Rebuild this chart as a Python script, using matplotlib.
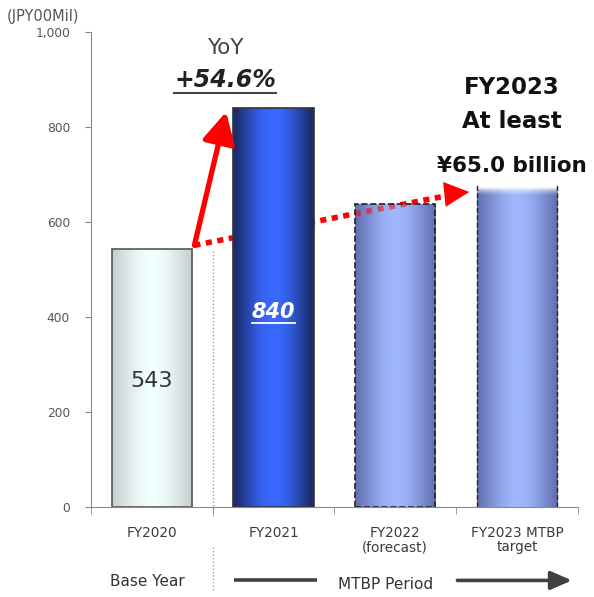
import numpy as np
import matplotlib
matplotlib.use("Agg")
import matplotlib.pyplot as plt
from matplotlib.colors import LinearSegmentedColormap
from matplotlib.transforms import blended_transform_factory

# ---------- data ----------
categories = ["FY2020", "FY2021", "FY2022\n(forecast)", "FY2023 MTBP\ntarget"]
values = [543, 840, 638, 650]
value_labels = ["543", "840"]
yoy_label = "+54.6%"
y_ticks = [0, 200, 400, 600, 800, 1000]
y_tick_labels = ["0", "200", "400", "600", "800", "1,000"]

# bar styles: (edge colour, centre colour, outline colour, outline style)
bar_styles = [
    ("#c6d0d0", "#f2ffff", "#555555", "-"),
    ("#1a2a66", "#3868ff", "#333333", "-"),
    ("#6270b0", "#9fb6fc", "#222222", "--"),
    ("#6270b0", "#9fb6fc", "#222222", "--"),
]
bar_w = 0.66
fade_h = 28

fig = plt.figure(figsize=(5.94, 5.97), dpi=100)
ax = fig.add_axes([0.153, 0.151, 0.82, 0.795])
ax.set_xlim(-0.5, 3.5)
ax.set_ylim(0, 1000)


def gradient_bar(x, h, edge, centre, outline, ls, top_fade=0, z=2):
    cmap = LinearSegmentedColormap.from_list("g", [edge, centre])
    prof = np.sin(np.linspace(0, np.pi, 64)) ** 1.2
    rgba = cmap(prof)[None, :, :]
    top = h + top_fade
    if top_fade:
        n = 80
        img = np.repeat(rgba, n, axis=0)
        ys = np.linspace(0, top, n)
        k = np.clip((top - ys) / (top_fade * 0.6), 0, 1) ** 0.7
        for c in range(3):
            img[:, :, c] = img[:, :, c] * k[:, None] + (1 - k[:, None])
        img = img[::-1]
    else:
        img = rgba
    rect = ax.bar(x, top, width=bar_w, color="none", edgecolor="none", zorder=z)[0]
    im = ax.imshow(img, extent=(x - bar_w / 2, x + bar_w / 2, 0, top),
                   aspect="auto", zorder=z, interpolation="bilinear")
    im.set_clip_path(rect)
    if top_fade:
        ax.vlines([x - bar_w / 2, x + bar_w / 2], 0, top, colors=outline,
                  linestyles=ls, lw=1, zorder=z + 0.1)
    else:
        ax.bar(x, h, width=bar_w, color="none", edgecolor=outline, lw=1.2,
               linestyle=ls, zorder=z + 0.1)
    return rect


# ---------- arrows (behind bars) ----------
x0 = 0 + bar_w / 2
tip2 = (3 - bar_w / 2 - 0.04, values[3] + 14)
dot_x = [x0 + 0.02, tip2[0] - 0.1]
dot_y = [values[0] + 8, tip2[1] - 3]
dot_style = dict(color="#ff0000", lw=4, linestyle=(0, (1.1, 1.0)), dash_capstyle="butt")
ax.plot(dot_x, dot_y, zorder=1.5, **dot_style)
ax.annotate("", xy=tip2, xytext=(tip2[0] - 0.12, tip2[1] - 3),
            arrowprops=dict(arrowstyle="-|>,head_width=0.45,head_length=0.9",
                            color="#ff0000", lw=0, mutation_scale=20), zorder=1.5)

rects = [gradient_bar(i, v, *st, top_fade=fade_h if i == 3 else 0)
         for i, (v, st) in enumerate(zip(values, bar_styles))]

# dotted line shows through the forecast bar
over = ax.plot(dot_x, dot_y, zorder=2.05, alpha=0.55, **dot_style)[0]
over.set_clip_path(rects[2])

ax.annotate("", xy=(1 - bar_w / 2 - 0.06, values[1] - 8), xytext=(x0 + 0.02, values[0] + 8),
            arrowprops=dict(arrowstyle="-|>,head_width=0.45,head_length=0.85",
                            color="#ff0000", lw=3.8, mutation_scale=22,
                            shrinkA=0, shrinkB=0), zorder=5)

# ---------- value labels ----------
ax.text(0, values[0] * 0.49, value_labels[0], ha="center", va="center",
        fontsize=16, color="#333333")
t840 = ax.text(1, values[1] * 0.49, value_labels[1], ha="center", va="center",
               fontsize=15, color="white", fontweight="bold", fontstyle="italic", zorder=6)

# ---------- axes styling ----------
for s in ["top", "right"]:
    ax.spines[s].set_visible(False)
for s in ["left", "bottom"]:
    ax.spines[s].set_color("#8a8a8a")
ax.set_yticks(y_ticks)
ax.set_yticklabels(y_tick_labels)
ax.tick_params(axis="y", colors="#8a8a8a", labelcolor="#555555", labelsize=8.8,
               length=4, pad=11)
ax.set_xticks(range(len(categories)))
ax.set_xticklabels(categories, fontsize=9.8, color="#3a3a3a", linespacing=1.0)
ax.tick_params(axis="x", length=0, pad=14)
ax.set_xticks(np.arange(-0.5, 4, 1), minor=True)
ax.tick_params(axis="x", which="minor", length=5, colors="#8a8a8a")

fig.text(0.072, 0.973, "(JPY00Mil)", ha="center", va="center", fontsize=10.5, color="#555555")

# divider between base year and MTBP period
bt = blended_transform_factory(ax.transData, ax.transAxes)
div_style = dict(transform=bt, color="#a0a0a0", lw=1, linestyle=(0, (1, 1.5)),
                 clip_on=False, zorder=1)
ax.plot([0.5, 0.5], [0.54, -0.02], **div_style)
ax.plot([0.5, 0.5], [-0.085, -0.175], **div_style)

ax.text(-0.04, -0.158, "Base Year", transform=bt, ha="center", va="center",
        fontsize=11, color="#333333")
ax.text(1.92, -0.163, "MTBP Period", transform=bt, ha="center", va="center",
        fontsize=11, color="#333333")
ax.plot([0.675, 1.36], [-0.154, -0.154], transform=bt, color="#404040", lw=2.6,
        clip_on=False, solid_capstyle="butt")
ax.annotate("", xy=(3.45, -0.155), xytext=(2.51, -0.155), xycoords=bt,
            arrowprops=dict(arrowstyle="-|>,head_width=0.35,head_length=0.8",
                            color="#404040", lw=2.6, mutation_scale=16,
                            shrinkA=0, shrinkB=0), annotation_clip=False)

# ---------- headline texts ----------
fig.text(0.379, 0.920, "YoY", ha="center", va="center", fontsize=15.5, color="#444444")
tyoy = fig.text(0.379, 0.866, yoy_label, ha="center", va="center", fontsize=17,
                fontweight="bold", fontstyle="italic", color="#222222")
fig.text(0.862, 0.853, "FY2023", ha="center", va="center", fontsize=16.5,
         fontweight="bold", color="#111111")
fig.text(0.862, 0.797, "At least", ha="center", va="center", fontsize=16.5,
         fontweight="bold", color="#111111")
fig.text(0.862, 0.722, "¥65.0 billion", ha="center", va="center", fontsize=15.5,
         fontweight="bold", color="#111111")

# underlines drawn from rendered text extents
fig.canvas.draw()
r = fig.canvas.get_renderer()
for t, col, lw in [(tyoy, "#444444", 1.5), (t840, "white", 1.3)]:
    bb = t.get_window_extent(r).transformed(fig.transFigure.inverted())
    fig.add_artist(plt.Line2D([bb.x0, bb.x1], [bb.y0 - 0.002, bb.y0 - 0.002],
                              color=col, lw=lw, transform=fig.transFigure, zorder=7))

fig.savefig("out.png", dpi=100)
